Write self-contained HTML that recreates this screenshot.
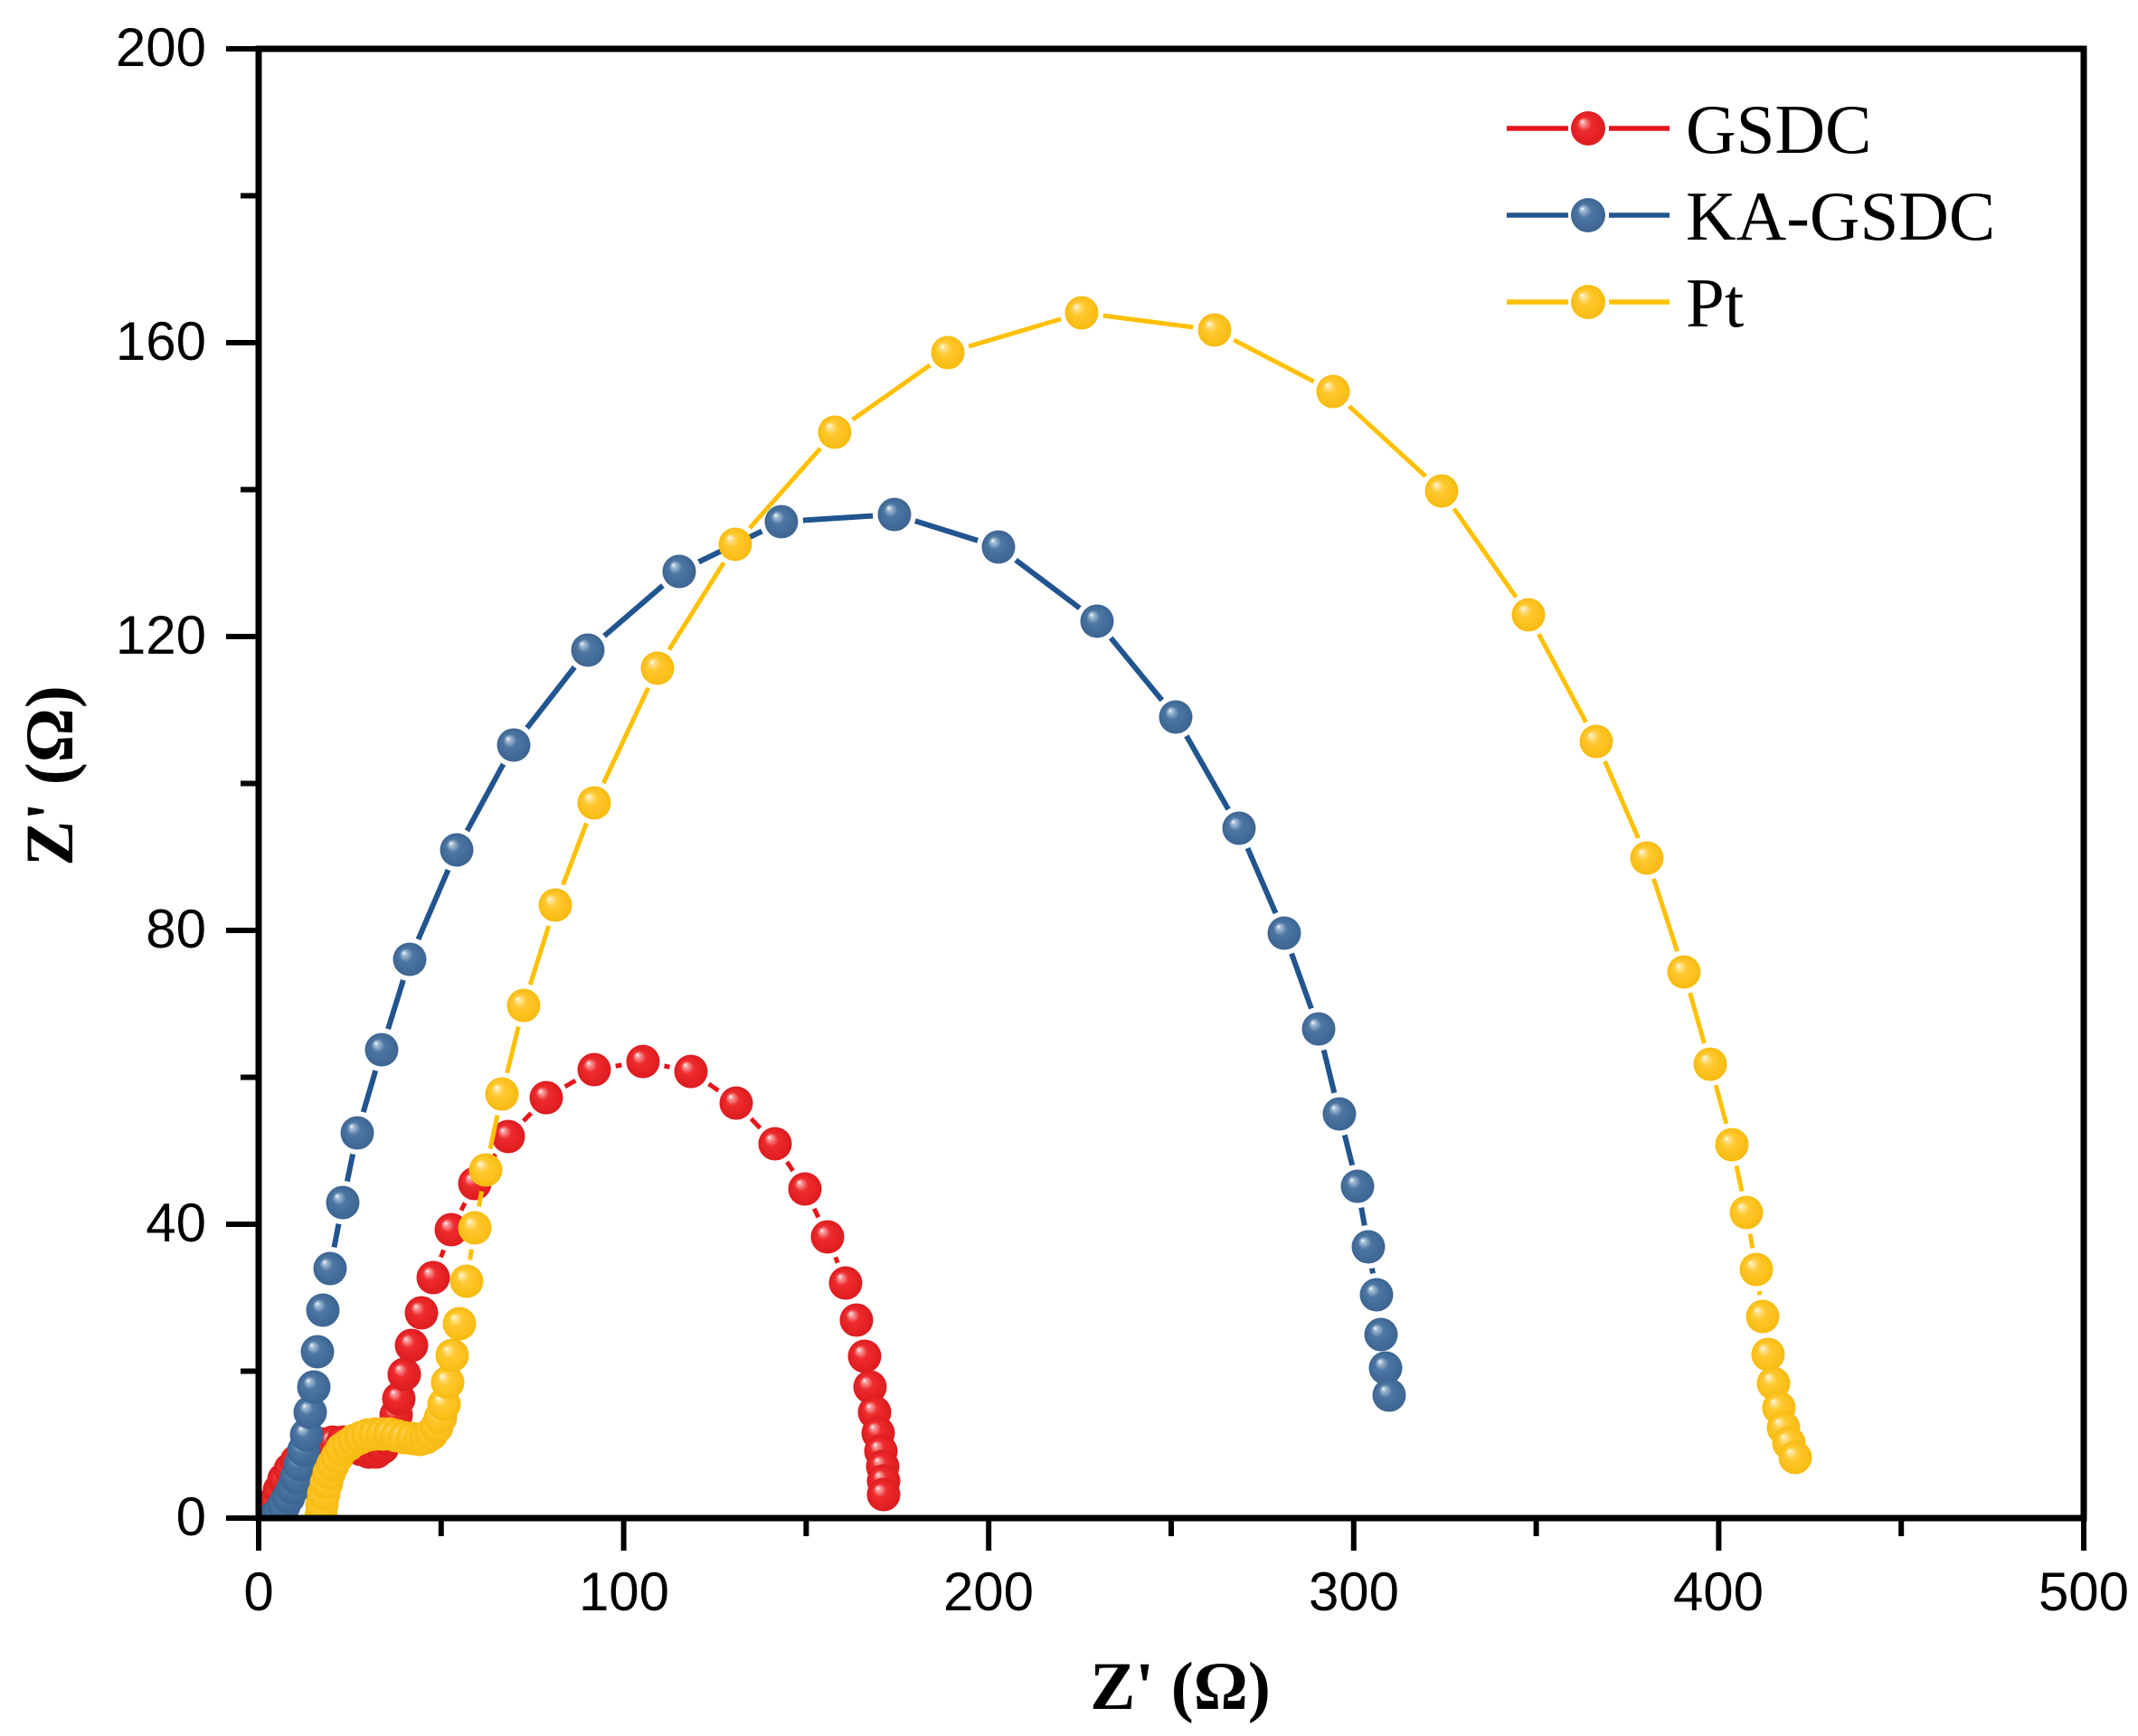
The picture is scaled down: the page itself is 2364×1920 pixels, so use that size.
<!DOCTYPE html>
<html>
<head>
<meta charset="utf-8">
<style>
html,body{margin:0;padding:0;background:#fff;}
svg{display:block;}
</style>
</head>
<body>
<svg xmlns="http://www.w3.org/2000/svg" xmlns:xlink="http://www.w3.org/1999/xlink" width="2364" height="1920" viewBox="0 0 2364 1920">
<defs>
<radialGradient id="gr" cx="0.5" cy="0.5" r="0.5" fx="0.32" fy="0.3">
<stop offset="0" stop-color="#ffffff"/>
<stop offset="0.12" stop-color="#f9a0a0"/>
<stop offset="0.4" stop-color="#ee2b2d"/>
<stop offset="1" stop-color="#dc1c1f"/>
</radialGradient>
<radialGradient id="gb" cx="0.5" cy="0.5" r="0.5" fx="0.32" fy="0.3">
<stop offset="0" stop-color="#ffffff"/>
<stop offset="0.12" stop-color="#a9bfd6"/>
<stop offset="0.4" stop-color="#4c76a3"/>
<stop offset="1" stop-color="#3d6592"/>
</radialGradient>
<radialGradient id="gy" cx="0.5" cy="0.5" r="0.5" fx="0.32" fy="0.3">
<stop offset="0" stop-color="#ffffff"/>
<stop offset="0.12" stop-color="#ffe59a"/>
<stop offset="0.4" stop-color="#ffc82e"/>
<stop offset="1" stop-color="#f7bb10"/>
</radialGradient>
<clipPath id="clip"><rect x="286" y="54" width="2018" height="1625"/></clipPath>

<g id="rp">
<circle cx="300" cy="1675" r="18.5"/><circle cx="304" cy="1661" r="18.5"/><circle cx="309" cy="1648" r="18.5"/><circle cx="314" cy="1636" r="18.5"/><circle cx="321" cy="1625" r="18.5"/><circle cx="328" cy="1616" r="18.5"/><circle cx="337" cy="1608" r="18.5"/><circle cx="347" cy="1601" r="18.5"/><circle cx="357" cy="1597" r="18.5"/><circle cx="368" cy="1595" r="18.5"/><circle cx="379" cy="1595" r="18.5"/><circle cx="389" cy="1599" r="18.5"/><circle cx="399" cy="1603" r="18.5"/><circle cx="408" cy="1606" r="18.5"/><circle cx="416" cy="1606" r="18.5"/><circle cx="423" cy="1601" r="18.5"/><circle cx="429" cy="1592" r="18.5"/><circle cx="435" cy="1580" r="18.5"/><circle cx="438" cy="1565" r="18.5"/><circle cx="441" cy="1547" r="18.5"/><circle cx="447" cy="1520" r="18.5"/><circle cx="455" cy="1488" r="18.5"/><circle cx="466" cy="1452" r="18.5"/><circle cx="479" cy="1413" r="18.5"/><circle cx="499" cy="1360" r="18.5"/><circle cx="525" cy="1309" r="18.5"/><circle cx="562" cy="1257" r="18.5"/><circle cx="604" cy="1214" r="18.5"/><circle cx="657" cy="1183" r="18.5"/><circle cx="711" cy="1174" r="18.5"/><circle cx="764" cy="1185" r="18.5"/><circle cx="814" cy="1220" r="18.5"/><circle cx="857" cy="1265" r="18.5"/><circle cx="890" cy="1315" r="18.5"/><circle cx="915" cy="1368" r="18.5"/><circle cx="935" cy="1419" r="18.5"/><circle cx="947" cy="1460" r="18.5"/><circle cx="956" cy="1500" r="18.5"/><circle cx="962" cy="1534" r="18.5"/><circle cx="967" cy="1562" r="18.5"/><circle cx="971" cy="1585" r="18.5"/><circle cx="974" cy="1605" r="18.5"/><circle cx="976" cy="1622" r="18.5"/><circle cx="977" cy="1638" r="18.5"/><circle cx="977" cy="1653" r="18.5"/>
</g>
<g id="bp">
<circle cx="300" cy="1681" r="18.5"/><circle cx="305" cy="1677" r="18.5"/><circle cx="309" cy="1673" r="18.5"/><circle cx="314" cy="1665" r="18.5"/><circle cx="319" cy="1656" r="18.5"/><circle cx="324" cy="1646" r="18.5"/><circle cx="328" cy="1634" r="18.5"/><circle cx="332" cy="1620" r="18.5"/><circle cx="336" cy="1604" r="18.5"/><circle cx="339" cy="1587" r="18.5"/><circle cx="343" cy="1562" r="18.5"/><circle cx="347" cy="1534" r="18.5"/><circle cx="351" cy="1495" r="18.5"/><circle cx="357" cy="1449" r="18.5"/><circle cx="365" cy="1403" r="18.5"/><circle cx="379" cy="1330" r="18.5"/><circle cx="395" cy="1253" r="18.5"/><circle cx="422" cy="1161" r="18.5"/><circle cx="453" cy="1061" r="18.5"/><circle cx="505" cy="940" r="18.5"/><circle cx="568" cy="824" r="18.5"/><circle cx="650" cy="719" r="18.5"/><circle cx="751" cy="632" r="18.5"/><circle cx="864" cy="577" r="18.5"/><circle cx="989" cy="569" r="18.5"/><circle cx="1104" cy="605" r="18.5"/><circle cx="1213" cy="687" r="18.5"/><circle cx="1300" cy="793" r="18.5"/><circle cx="1370" cy="916" r="18.5"/><circle cx="1420" cy="1032" r="18.5"/><circle cx="1458" cy="1138" r="18.5"/><circle cx="1481" cy="1232" r="18.5"/><circle cx="1501" cy="1312" r="18.5"/><circle cx="1513" cy="1379" r="18.5"/><circle cx="1522" cy="1432" r="18.5"/><circle cx="1527" cy="1476" r="18.5"/><circle cx="1532" cy="1513" r="18.5"/><circle cx="1536" cy="1543" r="18.5"/>
</g>
<g id="yp">
<circle cx="355" cy="1677" r="18.5"/><circle cx="356" cy="1664" r="18.5"/><circle cx="358" cy="1652" r="18.5"/><circle cx="361" cy="1640" r="18.5"/><circle cx="364" cy="1629" r="18.5"/><circle cx="368" cy="1620" r="18.5"/><circle cx="373" cy="1611" r="18.5"/><circle cx="378" cy="1603" r="18.5"/><circle cx="385" cy="1598" r="18.5"/><circle cx="392" cy="1593" r="18.5"/><circle cx="399" cy="1590" r="18.5"/><circle cx="407" cy="1587" r="18.5"/><circle cx="415" cy="1586" r="18.5"/><circle cx="423" cy="1586" r="18.5"/><circle cx="431" cy="1586" r="18.5"/><circle cx="439" cy="1588" r="18.5"/><circle cx="447" cy="1590" r="18.5"/><circle cx="456" cy="1591" r="18.5"/><circle cx="464" cy="1592" r="18.5"/><circle cx="471" cy="1590" r="18.5"/><circle cx="477" cy="1586" r="18.5"/><circle cx="483" cy="1578" r="18.5"/><circle cx="487" cy="1568" r="18.5"/><circle cx="491" cy="1553" r="18.5"/><circle cx="495" cy="1529" r="18.5"/><circle cx="500" cy="1499" r="18.5"/><circle cx="508" cy="1464" r="18.5"/><circle cx="516" cy="1417" r="18.5"/><circle cx="525" cy="1358" r="18.5"/><circle cx="537" cy="1294" r="18.5"/><circle cx="555" cy="1210" r="18.5"/><circle cx="579" cy="1112" r="18.5"/><circle cx="614" cy="1001" r="18.5"/><circle cx="657" cy="888" r="18.5"/><circle cx="727" cy="739" r="18.5"/><circle cx="813" cy="602" r="18.5"/><circle cx="923" cy="478" r="18.5"/><circle cx="1048" cy="390" r="18.5"/><circle cx="1196" cy="346" r="18.5"/><circle cx="1343" cy="365" r="18.5"/><circle cx="1474" cy="433" r="18.5"/><circle cx="1594" cy="543" r="18.5"/><circle cx="1690" cy="680" r="18.5"/><circle cx="1765" cy="820" r="18.5"/><circle cx="1821" cy="949" r="18.5"/><circle cx="1862" cy="1075" r="18.5"/><circle cx="1891" cy="1177" r="18.5"/><circle cx="1915" cy="1266" r="18.5"/><circle cx="1931" cy="1341" r="18.5"/><circle cx="1942" cy="1404" r="18.5"/><circle cx="1949" cy="1456" r="18.5"/><circle cx="1955" cy="1498" r="18.5"/><circle cx="1961" cy="1530" r="18.5"/><circle cx="1967" cy="1557" r="18.5"/><circle cx="1972" cy="1579" r="18.5"/><circle cx="1978" cy="1596" r="18.5"/><circle cx="1985" cy="1612" r="18.5"/>
</g>

<mask id="mr" maskUnits="userSpaceOnUse" x="0" y="0" width="2364" height="1920">
<rect x="0" y="0" width="2364" height="1920" fill="#fff"/>
<use xlink:href="#rp" href="#rp" fill="#000" stroke="#000" stroke-width="11"/>
</mask>
<mask id="mb" maskUnits="userSpaceOnUse" x="0" y="0" width="2364" height="1920">
<rect x="0" y="0" width="2364" height="1920" fill="#fff"/>
<use xlink:href="#bp" href="#bp" fill="#000" stroke="#000" stroke-width="11"/>
</mask>
<mask id="my" maskUnits="userSpaceOnUse" x="0" y="0" width="2364" height="1920">
<rect x="0" y="0" width="2364" height="1920" fill="#fff"/>
<use xlink:href="#yp" href="#yp" fill="#000" stroke="#000" stroke-width="11"/>
</mask>
</defs>
<rect x="0" y="0" width="2364" height="1920" fill="#fff"/>

<g clip-path="url(#clip)">
<!-- GSDC -->
<polyline mask="url(#mr)" fill="none" stroke="#e8141b" stroke-width="5" stroke-linejoin="round" points="300,1675 304,1661 309,1648 314,1636 321,1625 328,1616 337,1608 347,1601 357,1597 368,1595 379,1595 389,1599 399,1603 408,1606 416,1606 423,1601 429,1592 435,1580 438,1565 441,1547 447,1520 455,1488 466,1452 479,1413 499,1360 525,1309 562,1257 604,1214 657,1183 711,1174 764,1185 814,1220 857,1265 890,1315 915,1368 935,1419 947,1460 956,1500 962,1534 967,1562 971,1585 974,1605 976,1622 977,1638 977,1653"/>
<use xlink:href="#rp" href="#rp" fill="url(#gr)"/>

<!-- KA-GSDC -->
<polyline mask="url(#mb)" fill="none" stroke="#22558f" stroke-width="6" stroke-linejoin="round" points="300,1681 305,1677 309,1673 314,1665 319,1656 324,1646 328,1634 332,1620 336,1604 339,1587 343,1562 347,1534 351,1495 357,1449 365,1403 379,1330 395,1253 422,1161 453,1061 505,940 568,824 650,719 751,632 864,577 989,569 1104,605 1213,687 1300,793 1370,916 1420,1032 1458,1138 1481,1232 1501,1312 1513,1379 1522,1432 1527,1476 1532,1513 1536,1543"/>
<use xlink:href="#bp" href="#bp" fill="url(#gb)"/>

<!-- Pt -->
<polyline mask="url(#my)" fill="none" stroke="#ffc000" stroke-width="5" stroke-linejoin="round" points="355,1677 356,1664 358,1652 361,1640 364,1629 368,1620 373,1611 378,1603 385,1598 392,1593 399,1590 407,1587 415,1586 423,1586 431,1586 439,1588 447,1590 456,1591 464,1592 471,1590 477,1586 483,1578 487,1568 491,1553 495,1529 500,1499 508,1464 516,1417 525,1358 537,1294 555,1210 579,1112 614,1001 657,888 727,739 813,602 923,478 1048,390 1196,346 1343,365 1474,433 1594,543 1690,680 1765,820 1821,949 1862,1075 1891,1177 1915,1266 1931,1341 1942,1404 1949,1456 1955,1498 1961,1530 1967,1557 1972,1579 1978,1596 1985,1612"/>
<use xlink:href="#yp" href="#yp" fill="url(#gy)"/>
</g>

<!-- Axes frame -->
<rect x="286" y="54" width="2018" height="1625" fill="none" stroke="#000" stroke-width="7"/>

<!-- X ticks -->
<g stroke="#000" stroke-width="6">
<line x1="286" y1="1679" x2="286" y2="1715"/>
<line x1="689.6" y1="1679" x2="689.6" y2="1715"/>
<line x1="1093.2" y1="1679" x2="1093.2" y2="1715"/>
<line x1="1496.8" y1="1679" x2="1496.8" y2="1715"/>
<line x1="1900.4" y1="1679" x2="1900.4" y2="1715"/>
<line x1="2304" y1="1679" x2="2304" y2="1715"/>
<line x1="487.8" y1="1679" x2="487.8" y2="1699"/>
<line x1="891.4" y1="1679" x2="891.4" y2="1699"/>
<line x1="1295" y1="1679" x2="1295" y2="1699"/>
<line x1="1698.6" y1="1679" x2="1698.6" y2="1699"/>
<line x1="2102.2" y1="1679" x2="2102.2" y2="1699"/>
<!-- Y ticks -->
<line x1="250" y1="1679" x2="286" y2="1679"/>
<line x1="250" y1="1354" x2="286" y2="1354"/>
<line x1="250" y1="1029" x2="286" y2="1029"/>
<line x1="250" y1="704" x2="286" y2="704"/>
<line x1="250" y1="379" x2="286" y2="379"/>
<line x1="250" y1="54" x2="286" y2="54"/>
<line x1="266" y1="1516.5" x2="286" y2="1516.5"/>
<line x1="266" y1="1191.5" x2="286" y2="1191.5"/>
<line x1="266" y1="866.5" x2="286" y2="866.5"/>
<line x1="266" y1="541.5" x2="286" y2="541.5"/>
<line x1="266" y1="216.5" x2="286" y2="216.5"/>
</g>

<!-- Tick labels -->
<g font-family="'Liberation Sans', Arial, sans-serif" font-size="60" fill="#000">
<g text-anchor="middle">
<text x="286" y="1781">0</text>
<text x="690" y="1781">100</text>
<text x="1093" y="1781">200</text>
<text x="1497" y="1781">300</text>
<text x="1900" y="1781">400</text>
<text x="2304" y="1781">500</text>
</g>
<g text-anchor="end">
<text x="228" y="1698">0</text>
<text x="228" y="1373">40</text>
<text x="228" y="1048">80</text>
<text x="228" y="723">120</text>
<text x="228" y="398">160</text>
<text x="228" y="73">200</text>
</g>
</g>

<!-- Axis titles -->
<g font-family="'Liberation Serif', 'Times New Roman', serif" font-weight="bold" font-size="75" fill="#000">
<text x="1305" y="1890" text-anchor="middle">Z' (Ω)</text>
<text transform="translate(80,858) rotate(-90)" text-anchor="middle">Z' (Ω)</text>
</g>

<!-- Legend -->
<g stroke-width="5.5">
<line x1="1666" y1="142" x2="1734" y2="142" stroke="#e8141b"/>
<line x1="1779" y1="142" x2="1846" y2="142" stroke="#e8141b"/>
<line x1="1666" y1="238" x2="1734" y2="238" stroke="#22558f"/>
<line x1="1779" y1="238" x2="1846" y2="238" stroke="#22558f"/>
<line x1="1666" y1="334" x2="1734" y2="334" stroke="#ffc000"/>
<line x1="1779" y1="334" x2="1846" y2="334" stroke="#ffc000"/>
</g>
<circle cx="1756" cy="142" r="19" fill="url(#gr)"/>
<circle cx="1756" cy="238" r="19" fill="url(#gb)"/>
<circle cx="1756" cy="334" r="19" fill="url(#gy)"/>
<g font-family="'Liberation Serif', 'Times New Roman', serif" font-size="77" fill="#000">
<text x="1864" y="169">GSDC</text>
<text x="1864" y="265">KA-GSDC</text>
<text x="1864" y="361">Pt</text>
</g>
</svg>
</body>
</html>
